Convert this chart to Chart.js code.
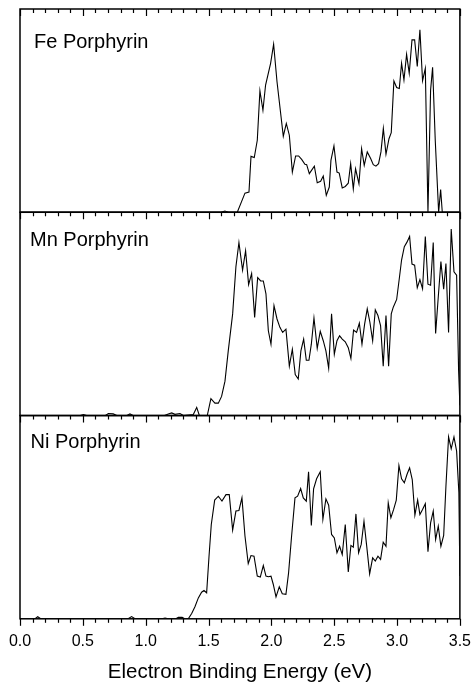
<!DOCTYPE html>
<html>
<head>
<meta charset="utf-8">
<script src="https://cdn.jsdelivr.net/npm/chart.js@4.4.1/dist/chart.umd.min.js"></script>
<style>
  body { margin: 0; background: #fff; }
  canvas { display: block; }
</style>
</head>
<body>
<canvas id="spectra" width="475" height="683"></canvas>
<script>
const panelNames = ["Fe Porphyrin", "Mn Porphyrin", "Ni Porphyrin"];

const feEnergy = [0, 1.60, 1.63, 1.66, 1.729, 1.790, 1.822, 1.838, 1.864, 1.888, 1.909, 1.933, 1.954, 1.994,
  2.018, 2.045, 2.095, 2.119, 2.143, 2.167, 2.193, 2.217, 2.241, 2.267, 2.281, 2.302, 2.342, 2.365, 2.392,
  2.413, 2.437, 2.461, 2.474, 2.498, 2.522, 2.540, 2.564, 2.588, 2.612, 2.631, 2.652, 2.670, 2.697, 2.718,
  2.739, 2.763, 2.790, 2.811, 2.832, 2.853, 2.872, 2.891, 2.912, 2.936, 2.954, 2.975, 2.997, 3.018, 3.036,
  3.055, 3.076, 3.097, 3.119, 3.140, 3.161, 3.182, 3.203, 3.225, 3.246, 3.267, 3.283, 3.304, 3.331, 3.347,
  3.360, 3.5];
const feSignal = [0, 0, 0.6, 0, 0, 9.4, 9.9, 27.5, 26.9, 35.4, 59.8, 50.2, 62.6, 73.3,
  82.7, 64.2, 37.4, 43.7, 37.9, 19.8, 27.7, 27.7, 26.0, 23.6, 23.4, 19.0, 22.7, 14.5, 15.2,
  17.8, 8.3, 12.4, 25.5, 32.6, 19.8, 19.3, 12.0, 12.7, 14.3, 23.9, 11.5, 21.4, 14.0, 31.3,
  23.1, 29.7, 26.4, 23.4, 22.7, 23.9, 29.7, 41.2, 28.5, 36.2, 39.2, 64.6, 61.4, 60.9, 73.3,
  65.1, 77.7, 68.4, 84.8, 84.8, 71.7, 89.8, 64.7, 70.8, 0, 60.1, 71.3, 35.4, 0, 11.2,
  0, 0];

const mnEnergy = [0, 0.48, 0.504, 0.53, 0.68, 0.703, 0.742, 0.77, 0.85, 0.875, 0.90, 1.15, 1.18, 1.207,
  1.233, 1.273, 1.30, 1.379, 1.406, 1.427, 1.458, 1.490,
  1.519, 1.551, 1.578, 1.604, 1.631, 1.657, 1.692, 1.718, 1.742, 1.771,
  1.795, 1.819, 1.843, 1.867, 1.891, 1.915, 1.936, 1.957, 1.976, 1.997,
  2.021, 2.045, 2.068, 2.090, 2.116, 2.143, 2.167, 2.190, 2.214, 2.235,
  2.257, 2.278, 2.299, 2.318, 2.339, 2.365, 2.389, 2.413, 2.434, 2.456,
  2.479, 2.501, 2.522, 2.543, 2.564, 2.588, 2.612, 2.633, 2.654, 2.678,
  2.700, 2.721, 2.742, 2.763, 2.784, 2.806, 2.827, 2.848, 2.869, 2.890,
  2.912, 2.933, 2.954, 2.970, 2.997, 3.018, 3.036, 3.058, 3.079, 3.100,
  3.119, 3.140, 3.161, 3.182, 3.203, 3.225, 3.246, 3.267, 3.288, 3.307,
  3.328, 3.349, 3.371, 3.389, 3.410, 3.431, 3.453, 3.474, 3.49, 3.5];
const mnSignal = [0, 0, 0.5, 0, 0, 1.0, 0.8, 0, 0, 0.8, 0, 0, 0.8, 1.3,
  0.6, 1.0, 0, 0.5, 4.0, 0, 0, 0,
  8.3, 6.1, 6.1, 9.4, 16.9, 31.8, 50.0, 73.2, 85.1, 71.5,
  81.1, 64.4, 69.9, 48.3, 67.9, 66.2, 66.2, 59.9, 41.7, 35.1,
  54.1, 47.5, 43.4, 40.9, 42.5, 24.3, 32.6, 20.2, 18.0, 31.8,
  37.6, 27.2, 27.2, 35.1, 48.0, 33.1, 41.4, 36.8, 31.8, 23.2,
  50.0, 30.1, 36.8, 39.2, 37.6, 36.3, 33.4, 28.1, 42.1, 40.9,
  45.4, 35.1, 45.0, 52.5, 45.9, 36.8, 52.0, 49.2, 44.2, 24.3,
  49.2, 24.3, 50.0, 53.3, 57.1, 67.4, 76.5, 83.1, 85.3, 88.1,
  74.5, 74.0, 62.9, 66.9, 62.4, 88.1, 64.6, 64.1, 85.1, 40.4,
  58.3, 75.7, 62.1, 74.8, 40.9, 91.7, 70.7, 69.0, 21.9, 5];

const niEnergy = [0, 0.12, 0.141, 0.165, 0.86, 0.888, 0.915, 1.13, 1.154, 1.18, 1.24, 1.26, 1.29, 1.31,
  1.339, 1.366, 1.392, 1.419, 1.445, 1.464, 1.485, 1.504, 1.522, 1.549,
  1.578, 1.607, 1.639, 1.665, 1.692, 1.718, 1.742, 1.766, 1.790, 1.816,
  1.838, 1.862, 1.888, 1.912, 1.936, 1.957, 1.976, 1.997, 2.015, 2.037,
  2.063, 2.087, 2.116, 2.137, 2.161, 2.188, 2.209, 2.233, 2.254, 2.278,
  2.296, 2.318, 2.336, 2.360, 2.389, 2.410, 2.434, 2.456, 2.479, 2.501,
  2.522, 2.543, 2.564, 2.588, 2.612, 2.633, 2.652, 2.673, 2.694, 2.715,
  2.737, 2.758, 2.782, 2.806, 2.827, 2.848, 2.869, 2.890, 2.912, 2.930,
  2.951, 2.973, 2.994, 3.015, 3.036, 3.058, 3.079, 3.100, 3.121, 3.142,
  3.164, 3.182, 3.203, 3.225, 3.246, 3.267, 3.288, 3.307, 3.328, 3.349,
  3.371, 3.389, 3.410, 3.431, 3.453, 3.474, 3.492, 3.5];
const niSignal = [0, 0, 1.0, 0, 0, 1.1, 0, 0, 0.4, 0, 0, 0.7, 0.7, 0,
  0, 2.6, 5.9, 10.3, 13.1, 13.9, 12.8, 30.8, 46.4, 58.4,
  60.3, 57.9, 61.1, 61.1, 43.6, 53.0, 53.3, 59.5, 40.7, 27.2,
  31.1, 30.8, 21.0, 20.5, 26.2, 21.0, 20.7, 21.0, 17.0, 10.8,
  15.7, 12.3, 12.0, 22.6, 40.7, 59.5, 60.3, 64.1, 59.5, 57.9,
  72.3, 45.9, 63.9, 68.9, 72.3, 48.9, 59.0, 55.9, 41.5, 39.8,
  32.5, 35.7, 31.6, 46.4, 23.1, 36.1, 35.2, 51.6, 32.5, 36.6,
  48.0, 36.1, 22.1, 30.0, 28.4, 30.8, 29.2, 37.7, 35.7, 57.0,
  49.7, 53.8, 58.4, 75.4, 68.9, 66.9, 71.0, 74.3, 68.5, 51.0,
  58.4, 51.3, 53.8, 56.6, 33.0, 47.2, 53.0, 39.0, 45.6, 35.7,
  41.0, 65.2, 89.5, 83.6, 89.5, 82.5, 62.0, 21.0];

const FONT = "'Liberation Sans', Arial, sans-serif";

function toPoints(xs, ys) {
  return xs.map((x, i) => ({ x: x, y: ys[i] }));
}

function lineSet(xs, ys, axis) {
  return {
    data: toPoints(xs, ys),
    yAxisID: axis,
    borderColor: "#000",
    borderWidth: 1.1,
    pointRadius: 0,
    tension: 0,
    fill: false,
  };
}

// panel frames, tick marks along each horizontal edge, panel labels
const panelFrames = {
  id: "panelFrames",
  afterDraw(chart) {
    const ctx = chart.ctx;
    const x = chart.scales.x;
    const ids = ["yFe", "yMn", "yNi"];
    const labelPos = [[14, 39], [10, 34], [10.5, 32]];
    ctx.save();
    ctx.strokeStyle = "#000";
    ctx.lineWidth = 1.5;
    ids.forEach((id) => {
      const y = chart.scales[id];
      ctx.strokeRect(x.left, y.top, x.right - x.left, y.bottom - y.top);
    });
    ctx.lineWidth = 1.2;
    const rows = ids.map((id) => chart.scales[id].top);
    rows.push(chart.scales.yNi.bottom);
    rows.forEach((rowY) => {
      for (let t = 0; t <= 35; t++) {
        const px = Math.round(x.getPixelForValue(t / 10)) + 0.5;
        const len = t % 5 === 0 ? 7 : 4;
        ctx.beginPath();
        ctx.moveTo(px, rowY);
        ctx.lineTo(px, rowY + len);
        ctx.stroke();
      }
    });
    ctx.fillStyle = "#000";
    ctx.font = "20px " + FONT;
    ctx.textBaseline = "alphabetic";
    ids.forEach((id, n) => {
      const y = chart.scales[id];
      ctx.fillText(panelNames[n], x.left + labelPos[n][0], y.top + labelPos[n][1]);
    });
    ctx.restore();
  },
};

function panelAxis(weight) {
  return {
    type: "linear",
    position: "left",
    stack: "panels",
    stackWeight: 1,
    weight: weight,
    min: 0,
    max: 100,
    grid: { display: false, drawTicks: false },
    border: { display: false },
    ticks: { display: false },
  };
}

new Chart("spectra", {
  type: "line",
  data: {
    datasets: [
      lineSet(feEnergy, feSignal, "yFe"),
      lineSet(mnEnergy, mnSignal, "yMn"),
      lineSet(niEnergy, niSignal, "yNi"),
    ],
  },
  options: {
    responsive: false,
    animation: false,
    layout: { padding: { left: 20, right: 15, top: 9, bottom: 0 } },
    plugins: {
      legend: { display: false },
      tooltip: { enabled: false },
    },
    scales: {
      x: {
        type: "linear",
        position: "bottom",
        min: 0,
        max: 3.5,
        grid: {
          display: true,
          drawOnChartArea: false,
          drawTicks: true,
          tickLength: 9,
          color: "rgba(0,0,0,0)",
        },
        border: { display: false },
        ticks: {
          stepSize: 0.5,
          autoSkip: false,
          maxRotation: 0,
          padding: 4,
          color: "#000",
          font: { family: FONT, size: 16 },
          callback: (v) => Number(v).toFixed(1),
        },
        title: {
          display: true,
          text: "Electron Binding Energy (eV)",
          color: "#000",
          font: { family: FONT, size: 20.5, lineHeight: "20px" },
          padding: { top: 7, bottom: 1 },
        },
      },
      yFe: panelAxis(3),
      yMn: panelAxis(2),
      yNi: panelAxis(1),
    },
  },
  plugins: [panelFrames],
});
</script>
</body>
</html>
